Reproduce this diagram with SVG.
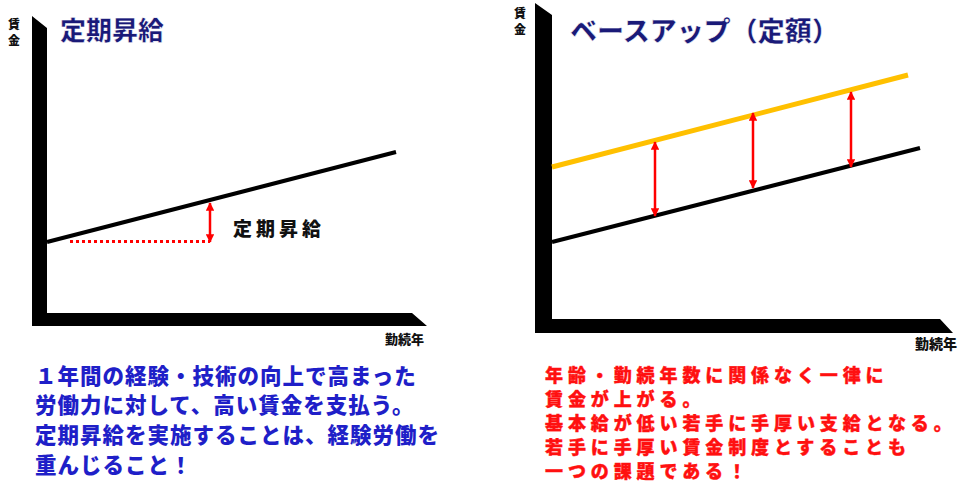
<svg xmlns="http://www.w3.org/2000/svg" width="959" height="488" viewBox="0 0 959 488">
<style>
text{font-family:"Noto Sans CJK JP","Noto Sans CJK SC",sans-serif;font-weight:900}
.ax{fill:#000}
.axl{font-size:12px;fill:#111;text-anchor:middle}
.xl{font-size:13px;fill:#111}
.title{font-size:26px;fill:#1a1a78;stroke:#fff;stroke-width:0.5}
.blk{stroke:#000;stroke-width:4;fill:none;stroke-linecap:butt}
.ylw{stroke:#ffc000;stroke-width:5;fill:none}
.red{stroke:#ff0000;stroke-width:2.5;fill:none}
.dot{stroke:#ff0000;stroke-width:3;stroke-dasharray:3 3;fill:none}
.lb{font-size:21.5px;fill:#1f1fc8;letter-spacing:1px}
.rb{font-size:18px;fill:#ff1010;letter-spacing:4.9px;stroke:#ff1010;stroke-width:0.4}
</style>
<defs>
<marker id="ah" viewBox="0 0 10 10" refX="9" refY="5" markerWidth="3.4" markerHeight="3.4" orient="auto-start-reverse" markerUnits="strokeWidth">
<path d="M0,0 L10,5 L0,10 z" fill="#ff0000"/>
</marker>
</defs>
<rect width="959" height="488" fill="#fff"/>

<g id="left-chart">
<polygon class="ax" points="32,16 47,28 47,313 412,313 427,326 32,326"/>
<text class="axl"><tspan x="14" y="29">賃</tspan><tspan x="14" y="45">金</tspan></text>
<text class="xl" x="385" y="344">勤続年</text>
<text class="title" x="60" y="40">定期昇給</text>
</g>

<g id="right-chart">
<polygon class="ax" points="535,3 552,15 552,319 940,319 953,333 535,333"/>
<text class="axl"><tspan x="520" y="18">賃</tspan><tspan x="520" y="34">金</tspan></text>
<text class="xl" x="915" y="349" style="font-size:14px">勤続年</text>
<text class="title" x="570" y="41" style="font-size:27px">ベースアップ（定額）</text>
</g>

<g id="connectors">
<line class="blk" x1="47" y1="242" x2="396" y2="152"/>
<line class="dot" x1="70" y1="241.5" x2="210" y2="241.5"/>
<line class="red" x1="210" y1="203" x2="210" y2="242" marker-start="url(#ah)" marker-end="url(#ah)"/>
<line class="ylw" x1="552" y1="167" x2="908" y2="75"/>
<line class="blk" x1="552" y1="242" x2="920" y2="148"/>
<line class="red" x1="655" y1="142" x2="655" y2="216" marker-start="url(#ah)" marker-end="url(#ah)"/>
<line class="red" x1="753" y1="113" x2="753" y2="188" marker-start="url(#ah)" marker-end="url(#ah)"/>
<line class="red" x1="851" y1="92" x2="851" y2="167" marker-start="url(#ah)" marker-end="url(#ah)"/>
</g>

<g id="label-teiki">
<text x="233" y="236" style="font-size:19px;fill:#111;letter-spacing:4px">定期昇給</text>
</g>

<g id="left-text">
<text class="lb"><tspan x="35" y="384">１年間の経験・技術の向上で高まった</tspan><tspan x="35" y="413">労働力に対して、高い賃金を支払う。</tspan><tspan x="35" y="443">定期昇給を実施することは、経験労働を</tspan><tspan x="35" y="473">重んじること！</tspan></text>
</g>

<g id="right-text">
<text class="rb"><tspan x="545" y="382">年齢・勤続年数に関係なく一律に</tspan><tspan x="545" y="406">賃金が上がる。</tspan><tspan x="545" y="430">基本給が低い若手に手厚い支給となる。</tspan><tspan x="545" y="454">若手に手厚い賃金制度とすることも</tspan><tspan x="545" y="478">一つの課題である！</tspan></text>
</g>
</svg>
